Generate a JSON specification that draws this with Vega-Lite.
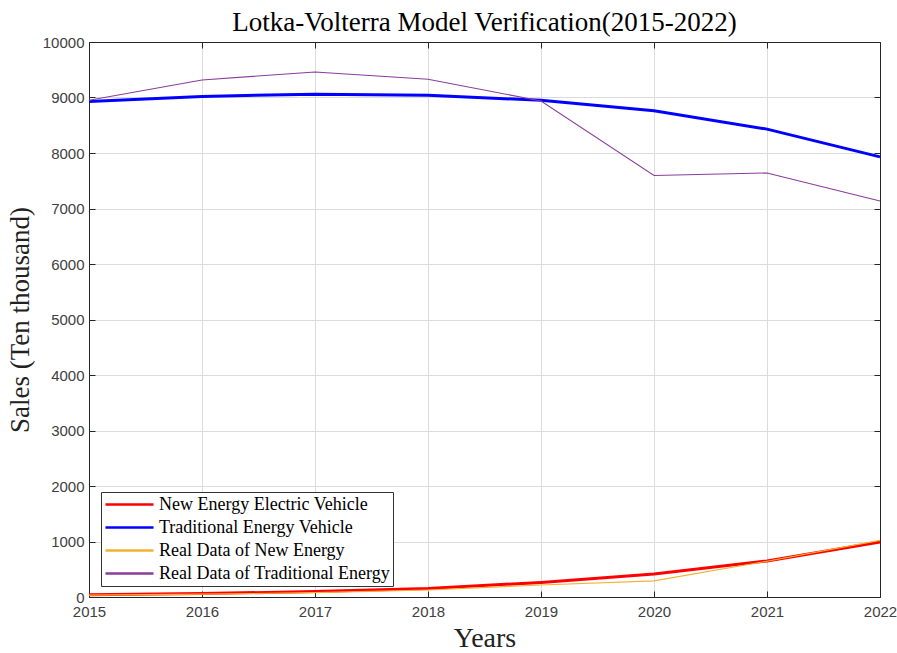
{
  "$schema": "https://vega.github.io/schema/vega-lite/v6.json",
  "width": 791,
  "height": 555,
  "autosize": {"type": "none"},
  "padding": {"left": 89, "top": 42, "right": 17, "bottom": 56},
  "background": "white",
  "title": {
    "text": "Lotka-Volterra Model Verification(2015-2022)",
    "font": "Liberation Serif",
    "fontSize": 27,
    "fontWeight": "normal",
    "color": "#000000",
    "anchor": "middle",
    "offset": -2
  },
  "config": {
    "view": {"stroke": null},
    "axis": {
      "labelFont": "Liberation Sans",
      "labelFontSize": 15,
      "labelColor": "#404040",
      "labelFlush": false,
      "domainColor": "#262626",
      "tickColor": "#262626",
      "gridColor": "#dcdcdc",
      "gridWidth": 1,
      "titleFont": "Liberation Serif",
      "titleFontWeight": "normal",
      "titleColor": "#222222"
    }
  },
  "data": {
    "values": [
      {"year": 2015, "series": "New Energy Electric Vehicle", "kind": "model", "sales": 40},
      {"year": 2016, "series": "New Energy Electric Vehicle", "kind": "model", "sales": 62},
      {"year": 2017, "series": "New Energy Electric Vehicle", "kind": "model", "sales": 98},
      {"year": 2018, "series": "New Energy Electric Vehicle", "kind": "model", "sales": 155},
      {"year": 2019, "series": "New Energy Electric Vehicle", "kind": "model", "sales": 262},
      {"year": 2020, "series": "New Energy Electric Vehicle", "kind": "model", "sales": 414},
      {"year": 2021, "series": "New Energy Electric Vehicle", "kind": "model", "sales": 650},
      {"year": 2022, "series": "New Energy Electric Vehicle", "kind": "model", "sales": 990},
      {"year": 2015, "series": "Traditional Energy Vehicle", "kind": "model", "sales": 8930},
      {"year": 2016, "series": "Traditional Energy Vehicle", "kind": "model", "sales": 9020},
      {"year": 2017, "series": "Traditional Energy Vehicle", "kind": "model", "sales": 9060},
      {"year": 2018, "series": "Traditional Energy Vehicle", "kind": "model", "sales": 9040},
      {"year": 2019, "series": "Traditional Energy Vehicle", "kind": "model", "sales": 8950},
      {"year": 2020, "series": "Traditional Energy Vehicle", "kind": "model", "sales": 8760},
      {"year": 2021, "series": "Traditional Energy Vehicle", "kind": "model", "sales": 8430},
      {"year": 2022, "series": "Traditional Energy Vehicle", "kind": "model", "sales": 7930},
      {"year": 2015, "series": "Real Data of New Energy", "kind": "real", "sales": 33},
      {"year": 2016, "series": "Real Data of New Energy", "kind": "real", "sales": 51},
      {"year": 2017, "series": "Real Data of New Energy", "kind": "real", "sales": 78},
      {"year": 2018, "series": "Real Data of New Energy", "kind": "real", "sales": 126},
      {"year": 2019, "series": "Real Data of New Energy", "kind": "real", "sales": 216},
      {"year": 2020, "series": "Real Data of New Energy", "kind": "real", "sales": 290},
      {"year": 2021, "series": "Real Data of New Energy", "kind": "real", "sales": 645},
      {"year": 2022, "series": "Real Data of New Energy", "kind": "real", "sales": 1020},
      {"year": 2015, "series": "Real Data of Traditional Energy", "kind": "real", "sales": 8950},
      {"year": 2016, "series": "Real Data of Traditional Energy", "kind": "real", "sales": 9315},
      {"year": 2017, "series": "Real Data of Traditional Energy", "kind": "real", "sales": 9460},
      {"year": 2018, "series": "Real Data of Traditional Energy", "kind": "real", "sales": 9330},
      {"year": 2019, "series": "Real Data of Traditional Energy", "kind": "real", "sales": 8937},
      {"year": 2020, "series": "Real Data of Traditional Energy", "kind": "real", "sales": 7595},
      {"year": 2021, "series": "Real Data of Traditional Energy", "kind": "real", "sales": 7640},
      {"year": 2022, "series": "Real Data of Traditional Energy", "kind": "real", "sales": 7135}
    ]
  },
  "layer": [
    {
      "transform": [{"filter": "datum.kind === 'model'"}],
      "mark": {"type": "line", "strokeWidth": 3},
      "encoding": {
        "x": {
          "field": "year", "type": "quantitative",
          "scale": {"domain": [2015, 2022], "nice": false, "zero": false},
          "axis": {
            "title": "Years",
            "titleFontSize": 28,
            "values": [2015, 2016, 2017, 2018, 2019, 2020, 2021, 2022],
            "format": "d",
            "tickSize": -6,
            "labelPadding": 13,
            "titlePadding": 5,
            "grid": true
          }
        },
        "y": {
          "field": "sales", "type": "quantitative",
          "scale": {"domain": [0, 10000], "nice": false},
          "axis": {
            "title": "Sales (Ten thousand)",
            "titleFontSize": 27,
            "values": [0, 1000, 2000, 3000, 4000, 5000, 6000, 7000, 8000, 9000, 10000],
            "format": "d",
            "tickSize": -6,
            "labelPadding": 11,
            "titlePadding": 8,
            "grid": true
          }
        },
        "color": {
          "field": "series", "type": "nominal",
          "scale": {
            "domain": ["New Energy Electric Vehicle", "Traditional Energy Vehicle", "Real Data of New Energy", "Real Data of Traditional Energy"],
            "range": ["#ff0000", "#0000ff", "#f2b134", "#8a3d9a"]
          },
          "legend": {
            "title": null,
            "orient": "none",
            "legendX": 12,
            "legendY": 450,
            "direction": "vertical",
            "symbolType": "M-1,0H5",
            "symbolSize": 256,
            "symbolStrokeWidth": 2.5,
            "labelOffset": 36,
            "labelFont": "Liberation Serif",
            "labelFontSize": 18,
            "labelColor": "#000000",
            "labelLimit": 400,
            "rowPadding": 4,
            "strokeColor": "#333333",
            "fillColor": "white",
            "padding": 3,
            "symbolOffset": 0
          }
        },
        "order": {"field": "year"}
      }
    },
    {
      "transform": [{"filter": "datum.kind === 'real'"}],
      "mark": {"type": "line", "strokeWidth": 1.1},
      "encoding": {
        "x": {"field": "year", "type": "quantitative", "axis": null},
        "y": {"field": "sales", "type": "quantitative", "axis": null},
        "color": {"field": "series", "type": "nominal"},
        "order": {"field": "year"}
      }
    },
    {
      "mark": {"type": "line", "opacity": 0},
      "encoding": {
        "x": {
          "field": "year", "type": "quantitative",
          "axis": {
            "orient": "top", "title": null, "labels": false, "grid": false,
            "values": [2015, 2016, 2017, 2018, 2019, 2020, 2021, 2022],
            "tickSize": -6
          }
        },
        "y": {
          "field": "sales", "type": "quantitative",
          "axis": {
            "orient": "right", "title": null, "labels": false, "grid": false,
            "values": [0, 1000, 2000, 3000, 4000, 5000, 6000, 7000, 8000, 9000, 10000],
            "tickSize": -6
          }
        }
      }
    }
  ],
  "resolve": {"axis": {"x": "independent", "y": "independent"}}
}
